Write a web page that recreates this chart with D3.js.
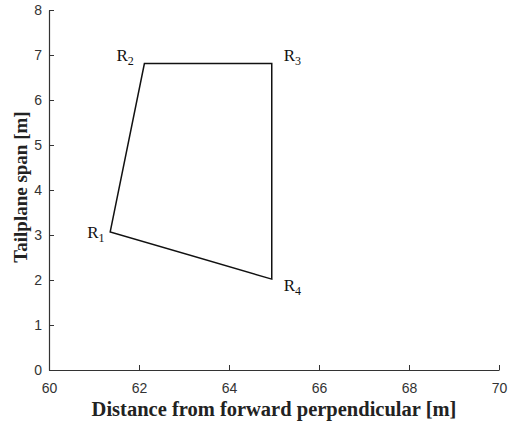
<!DOCTYPE html>
<html>
<head>
<meta charset="utf-8">
<script src="https://cdn.jsdelivr.net/npm/d3@7/dist/d3.min.js"></script>
<style>
  html, body { margin: 0; padding: 0; background: #fff; }
  svg { display: block; }
</style>
</head>
<body>
<svg id="chart" width="512" height="423"></svg>
<script>
// Tailplane corner points (distance from forward perpendicular, span)
const pointNames = ["1", "2", "3", "4"];
const xValues = [61.36, 62.12, 64.95, 64.95];
const yValues = [3.07, 6.81, 6.81, 2.02];
const xTicks = [60, 62, 64, 66, 68, 70];
const yTicks = [0, 1, 2, 3, 4, 5, 6, 7, 8];

const svg = d3.select("#chart");
const margin = { left: 49, right: 13, top: 10, bottom: 53 };
const W = 512, H = 423;

const x = d3.scaleLinear().domain([60, 70]).range([margin.left, W - margin.right]);
const y = d3.scaleLinear().domain([0, 8]).range([H - margin.bottom, margin.top]);

const axisColor = "#333";

// bottom axis, ticks pointing inward
const gx = svg.append("g")
  .attr("transform", `translate(0,${y(0)})`)
  .call(d3.axisBottom(x).tickValues(xTicks).tickSize(-5).tickPadding(13).tickSizeOuter(0));
// left axis, ticks pointing inward
const gy = svg.append("g")
  .attr("transform", `translate(${x(60)},0)`)
  .call(d3.axisLeft(y).tickValues(yTicks).tickSize(-5).tickPadding(7).tickSizeOuter(0));

[gx, gy].forEach(g => {
  g.select(".domain").attr("stroke", axisColor).attr("stroke-width", 1.2);
  g.selectAll(".tick line").attr("stroke", axisColor).attr("stroke-width", 1);
  g.selectAll(".tick text")
    .attr("fill", "#333")
    .style("font-family", "'Liberation Sans', Arial, sans-serif")
    .style("font-size", "14px");
});
gx.selectAll(".tick text").attr("dy", "0.71em");

// closed outline R1 -> R2 -> R3 -> R4 -> R1
const pts = xValues.map((v, i) => [x(v), y(yValues[i])]);
svg.append("path")
  .attr("d", d3.line()(pts) + "Z")
  .attr("fill", "none")
  .attr("stroke", "#111")
  .attr("stroke-width", 1.5)
  .attr("stroke-linejoin", "miter");

// corner labels
const labelOffsets = [[-23, 6], [-28, -3], [12, -3], [12, 12]];
pointNames.forEach((n, i) => {
  const t = svg.append("text")
    .attr("x", pts[i][0] + labelOffsets[i][0])
    .attr("y", pts[i][1] + labelOffsets[i][1])
    .attr("fill", "#111")
    .style("font-family", "'Liberation Serif', 'Times New Roman', serif")
    .style("font-size", "17px");
  t.append("tspan").text("R");
  t.append("tspan").attr("dy", 4).style("font-size", "12px").text(n);
});

// axis titles
svg.append("text")
  .attr("x", (x(60) + x(70)) / 2)
  .attr("y", 416)
  .attr("text-anchor", "middle")
  .attr("fill", "#222")
  .style("font-family", "'Liberation Serif', 'Times New Roman', serif")
  .style("font-weight", "bold")
  .style("font-size", "20.5px")
  .text("Distance from forward perpendicular [m]");

svg.append("text")
  .attr("transform", `translate(27,187) rotate(-90)`)
  .attr("text-anchor", "middle")
  .attr("fill", "#222")
  .style("font-family", "'Liberation Serif', 'Times New Roman', serif")
  .style("font-weight", "bold")
  .style("font-size", "19px")
  .text("Tailplane span [m]");
</script>
</body>
</html>
